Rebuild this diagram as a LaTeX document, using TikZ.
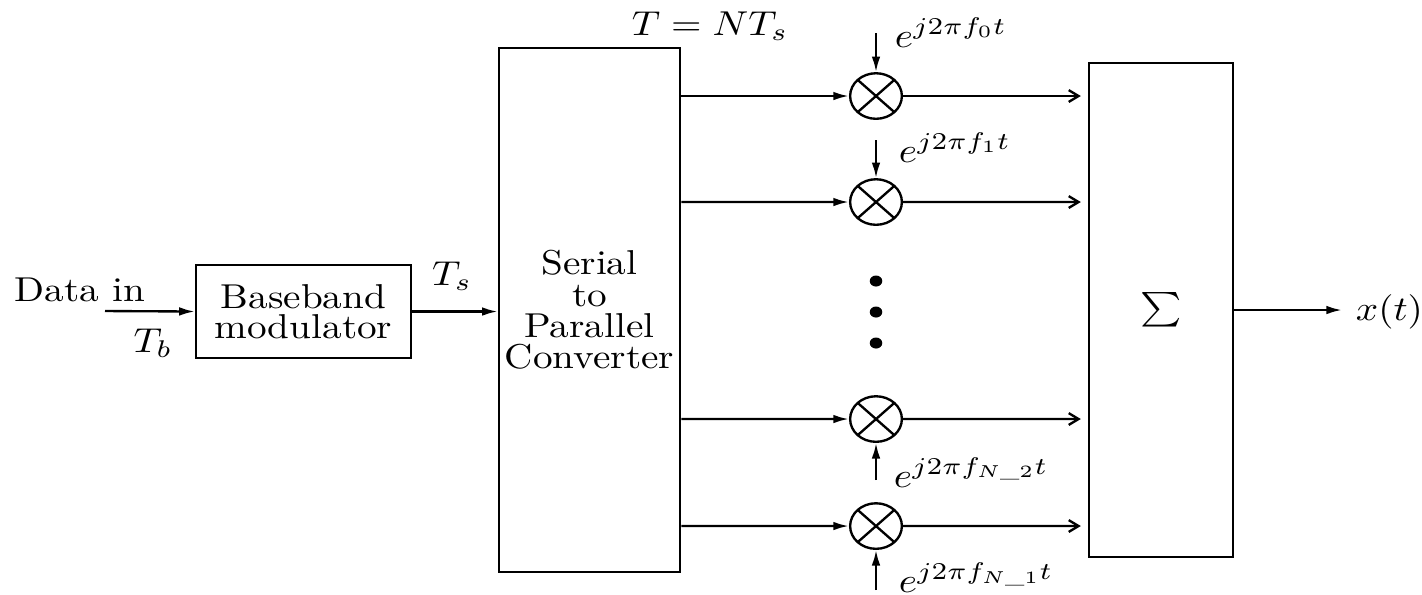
\documentclass[tikz,border=0pt]{standalone}
\usepackage{amsmath}
\usepackage{amssymb}
\usepackage{tikz}
\usetikzlibrary{arrows.meta}

\tikzset{
  blk/.style={draw,semithick,inner sep=0pt,align=center},
  mix/.style={draw,semithick,circle,minimum size=13.2pt,inner sep=0pt,
    path picture={\draw[semithick] (path picture bounding box.north west)--(path picture bounding box.south east)
      (path picture bounding box.north east)--(path picture bounding box.south west);}},
  dotn/.style={circle,fill,minimum size=3.2pt,inner sep=0pt},
  sig/.style={semithick,-{Latex[length=4pt,width=2.2pt]}},
  sumin/.style={semithick,-{Straight Barb[length=2.5pt,width=3pt]},shorten >=1.8pt},
}

\begin{document}
\begin{tikzpicture}[x=0.255pt,y=-0.2898pt,yscale=0.88,every node/.append style={transform shape}]
\useasboundingbox (0,0) rectangle (1422,594);
\node[blk,minimum width=54.8pt,minimum height=26.95pt] (bb) at (303.5,311.5) {Baseband\\[-3.3pt]modulator};
\node[blk,minimum width=46.2pt,minimum height=151.85pt] (s2p) at (589.5,310) {Serial\\[-2.9pt]to\\[-2.9pt]Parallel\\[-2.9pt]Converter};
\node[blk,minimum width=36.7pt,minimum height=143.15pt] (sum) at (1161,310) {$\sum$};
\foreach \i/\yy in {1/96,2/202,3/419,4/526}
  \node[mix] (m\i) at (876,\yy) {};
\foreach \i/\yy in {1/281,2/312,3/343}
  \node[dotn] (d\i) at (876,\yy) {};
\node[anchor=base] (datain) at (80,301) {Data in};
\node[anchor=base] (tb) at (153,352) {$T_b$};
\node[anchor=base] (ts) at (452,285) {$T_s$};
\node[anchor=base] (tsym) at (710,35) {$T = NT_s$};
\node[anchor=base west,inner sep=0pt] (e1) at (894,47) {$e^{j2\pi f_0t}$};
\node[anchor=base west,inner sep=0pt] (e2) at (898,162) {$e^{j2\pi f_1t}$};
\node[anchor=base west,inner sep=0pt] (e3) at (893,487) {$e^{j2\pi f_{N\_2}t}$};
\node[anchor=base west,inner sep=0pt] (e4) at (898,592) {$e^{j2\pi f_{N\_1}t}$};
\node[anchor=base west] (xt) at (1342,320) {$x(t)$};
\coordinate (din) at (105,311);
\coordinate (c1) at (876,33);
\coordinate (c2) at (876,140);
\coordinate (c3) at (876,480);
\coordinate (c4) at (876,590);
% signal path
\draw[sig] (din) -- (bb.west);
\draw[sig] (bb.east) -- (bb.east -| s2p.west);
\foreach \i in {1,...,4} {
  \draw[sig] (s2p.east |- m\i) -- (m\i);
  \draw[sig] (c\i) -- (m\i);
  \draw[sumin] (m\i) -- (m\i -| sum.west);
}
\draw[sig] (sum.east) -- (sum.east -| xt.west);
\end{tikzpicture}
\end{document}
